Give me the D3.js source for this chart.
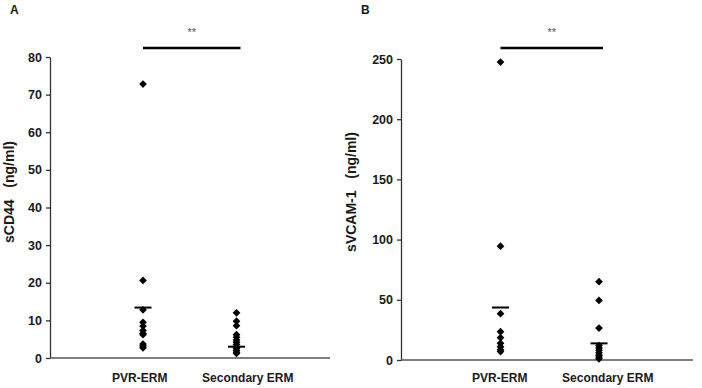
<!DOCTYPE html>
<html>
<head>
<meta charset="utf-8">
<script src="https://cdn.jsdelivr.net/npm/d3@7"></script>
<style>
  body { margin: 0; background: #fff; }
  svg { display: block; font-family: "Liberation Sans", Arial, sans-serif; }
  .ytitle { white-space: pre; }
</style>
</head>
<body>
<svg id="chart" width="702" height="388"></svg>
<script>
// categories shared by both panels
let groups = ["PVR-ERM", "Secondary ERM"];

// panel A: sCD44 (ng/ml)
let cd44Pvr = [72.8, 20.6, 12.8, 9.5, 8.5, 7.3, 6.5, 6.2, 3.7, 3.2, 2.7];
let cd44Sec = [12.0, 9.8, 8.6, 6.2, 5.5, 4.8, 4.2, 3.6, 3.0, 2.5, 2.0, 1.5, 1.2];
let cd44Means = [13.4, 3.0];
let cd44Ticks = [0, 10, 20, 30, 40, 50, 60, 70, 80];

// panel B: sVCAM-1 (ng/ml)
let vcamPvr = [247.5, 94.5, 38.5, 23.5, 18.5, 14, 11, 8.5, 7];
let vcamSec = [65, 49.5, 26.5, 12, 10, 8, 6, 4, 2.5, 1];
let vcamMeans = [43.6, 13.8];
let vcamTicks = [0, 50, 100, 150, 200, 250];

let svg = d3.select('#chart');

let panels = [
    {letter: "A", title: "sCD44   (ng/ml)", series: [cd44Pvr, cd44Sec], means: cd44Means, ticks: cd44Ticks,
     left: 50, right: 330, top: 57, bottom: 358, ptsX: [143, 236.5], titleX: 14},
    {letter: "B", title: "sVCAM-1   (ng/ml)", series: [vcamPvr, vcamSec], means: vcamMeans, ticks: vcamTicks,
     left: 401, right: 693, top: 59, bottom: 360, ptsX: [500.5, 599], titleX: 356}
];

let diamond = d3.symbol().type(d3.symbolSquare).size(30);

panels.forEach(function(p) {
    let g = svg.append("g");

    let y = d3.scaleLinear()
        .domain([0, d3.max(p.ticks)])
        .range([p.bottom, p.top]);

    let x = d3.scalePoint()
        .domain(groups)
        .range(p.ptsX);

    // y axis
    let yAxis = g.append("g")
        .attr("transform", "translate(" + p.left + ",0)")
        .call(d3.axisLeft(y).tickValues(p.ticks).tickSize(4).tickPadding(4).tickSizeOuter(0));
    yAxis.select(".domain").attr("stroke", "#333").attr("stroke-width", 1.3);
    yAxis.selectAll(".tick line").attr("stroke", "#333").attr("stroke-width", 1.3);
    yAxis.selectAll(".tick text")
        .attr("font-size", "12.5px")
        .attr("font-weight", "bold")
        .attr("font-family", "Liberation Sans, Arial, sans-serif")
        .attr("fill", "#1a1a1a");

    // x axis baseline
    g.append("line")
        .attr("x1", p.left).attr("x2", p.right)
        .attr("y1", y(0)).attr("y2", y(0))
        .attr("stroke", "#555")
        .attr("stroke-width", 1.3);

    // category labels
    let mid = (x(groups[0]) + x(groups[1])) / 2 + 4;
    groups.forEach(function(c, i) {
        g.append("text")
            .attr("x", mid + (i - 0.5) * 108)
            .attr("y", 382)
            .attr("text-anchor", "middle")
            .attr("font-size", "12px")
            .attr("font-weight", "bold")
            .attr("fill", "#1a1a1a")
            .text(c);
    });

    // y title
    g.append("text")
        .attr("class", "ytitle")
        .attr("transform", "translate(" + p.titleX + ",192) rotate(-90)")
        .attr("text-anchor", "middle")
        .attr("font-size", "14px")
        .attr("font-weight", "bold")
        .attr("fill", "#1a1a1a")
        .text(p.title);

    // panel letter
    g.append("text")
        .attr("x", p.left - 40)
        .attr("y", 14)
        .attr("font-size", "12px")
        .attr("font-weight", "bold")
        .attr("fill", "#1a1a1a")
        .text(p.letter);

    // points
    p.series.forEach(function(vals, i) {
        g.selectAll(null)
            .data(vals)
            .enter()
            .append("path")
            .attr("d", diamond)
            .attr("transform", function(d) {
                return "translate(" + x(groups[i]) + "," + y(d) + ") rotate(45)";
            })
            .attr("fill", "#000");
    });

    // mean lines
    g.selectAll(null)
        .data(p.means)
        .enter()
        .append("line")
        .attr("x1", function(d, i) { return x(groups[i]) - 8.5; })
        .attr("x2", function(d, i) { return x(groups[i]) + 8.5; })
        .attr("y1", function(d) { return y(d); })
        .attr("y2", function(d) { return y(d); })
        .attr("stroke", "#000")
        .attr("stroke-width", 2);

    // significance bar
    g.append("line")
        .attr("x1", x(groups[0]))
        .attr("x2", x(groups[1]) + 4)
        .attr("y1", 48).attr("y2", 48)
        .attr("stroke", "#000")
        .attr("stroke-width", 2.5);

    g.append("text")
        .attr("x", (x(groups[0]) + x(groups[1]) + 4) / 2)
        .attr("y", 36)
        .attr("text-anchor", "middle")
        .attr("font-size", "11px")
        .attr("fill", "#555")
        .text("**");
});
</script>
</body>
</html>
